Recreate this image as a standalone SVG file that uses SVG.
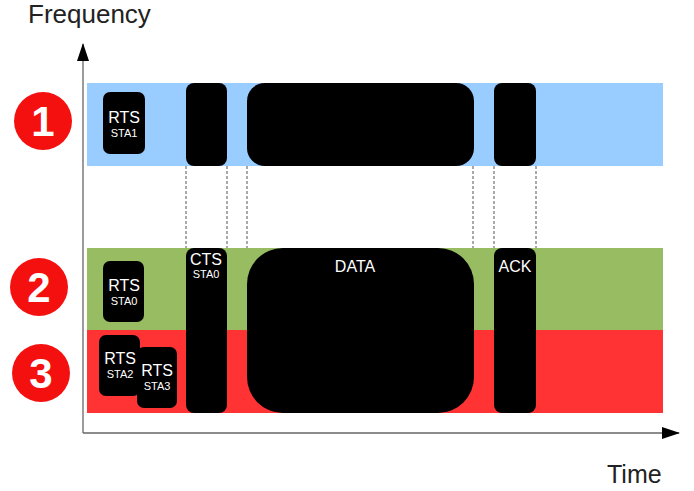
<svg xmlns="http://www.w3.org/2000/svg" width="694" height="491" viewBox="0 0 694 491">
<style>
text{font-family:"Liberation Sans",Arial,sans-serif;}
.blk{fill:#000;}
.lbl{fill:#fff;font-size:16px;text-anchor:middle;}
.sub{fill:#fff;font-size:11px;text-anchor:middle;}
.num{fill:#fff;font-size:42px;font-weight:bold;text-anchor:middle;}
.circ{fill:#f51010;}
.dash{stroke:#555;stroke-width:1;stroke-dasharray:3,2;fill:none;}
.axis{stroke:#666;stroke-width:1.3;fill:none;}
.title{fill:#222;font-size:26px;}
</style>
<defs>
<marker id="arr" markerWidth="18" markerHeight="12" refX="17" refY="6" orient="auto" markerUnits="userSpaceOnUse">
<path d="M0,0 L18,6 L0,12 Z" fill="#000"/>
</marker>
</defs>
<rect width="694" height="491" fill="#fff"/>
<g id="bands">
<rect x="87" y="83" width="576" height="83" fill="#99ccff"/>
<rect x="87" y="248" width="576" height="82" fill="#97bc62"/>
<rect x="87" y="330" width="576" height="83" fill="#ff3333"/>
</g>
<g id="connectors">
<line class="axis" x1="83" y1="433" x2="83" y2="44" marker-end="url(#arr)"/>
<line class="axis" x1="83" y1="433" x2="679" y2="433" marker-end="url(#arr)"/>
<line class="dash" x1="186" y1="166" x2="186" y2="248"/>
<line class="dash" x1="227" y1="166" x2="227" y2="248"/>
<line class="dash" x1="247" y1="166" x2="247" y2="248"/>
<line class="dash" x1="473" y1="166" x2="473" y2="248"/>
<line class="dash" x1="494" y1="166" x2="494" y2="248"/>
<line class="dash" x1="536" y1="166" x2="536" y2="248"/>
</g>
<g id="label-frequency"><text class="title" x="28" y="23">Frequency</text></g>
<g id="label-time"><text class="title" x="607" y="483" style="font-size:25px">Time</text></g>
<g id="c1"><circle class="circ" cx="43" cy="121" r="29"/><text class="num" x="43" y="136">1</text></g>
<g id="c2"><circle class="circ" cx="39" cy="287" r="29"/><text class="num" x="39" y="302">2</text></g>
<g id="c3"><circle class="circ" cx="41" cy="373" r="29"/><text class="num" x="41" y="388">3</text></g>
<g id="rts-sta1"><rect class="blk" x="103" y="92" width="42" height="62" rx="7"/><text class="lbl" x="124" y="123">RTS</text><text class="sub" x="124" y="137">STA1</text></g>
<g id="blk1-a"><rect class="blk" x="186" y="83" width="41" height="83" rx="8"/></g>
<g id="blk1-b"><rect class="blk" x="247" y="83" width="227" height="83" rx="18"/></g>
<g id="blk1-c"><rect class="blk" x="494" y="83" width="42" height="83" rx="8"/></g>
<g id="rts-sta0"><rect class="blk" x="103" y="261" width="41" height="61" rx="7"/><text class="lbl" x="124" y="291">RTS</text><text class="sub" x="124" y="305">STA0</text></g>
<g id="rts-sta2"><rect class="blk" x="99" y="335" width="41" height="61" rx="7"/><text class="lbl" x="120" y="364">RTS</text><text class="sub" x="120" y="378">STA2</text></g>
<g id="rts-sta3"><rect class="blk" x="137" y="347" width="40" height="61" rx="7"/><text class="lbl" x="157" y="376">RTS</text><text class="sub" x="157" y="390">STA3</text></g>
<g id="cts"><rect class="blk" x="186" y="248" width="41" height="165" rx="8"/><text class="lbl" x="206" y="265">CTS</text><text class="sub" x="206" y="278">STA0</text></g>
<g id="data"><rect class="blk" x="247" y="248" width="227" height="165" rx="36"/><text class="lbl" x="355" y="272">DATA</text></g>
<g id="ack"><rect class="blk" x="494" y="248" width="42" height="165" rx="8"/><text class="lbl" x="515" y="272">ACK</text></g>
</svg>
